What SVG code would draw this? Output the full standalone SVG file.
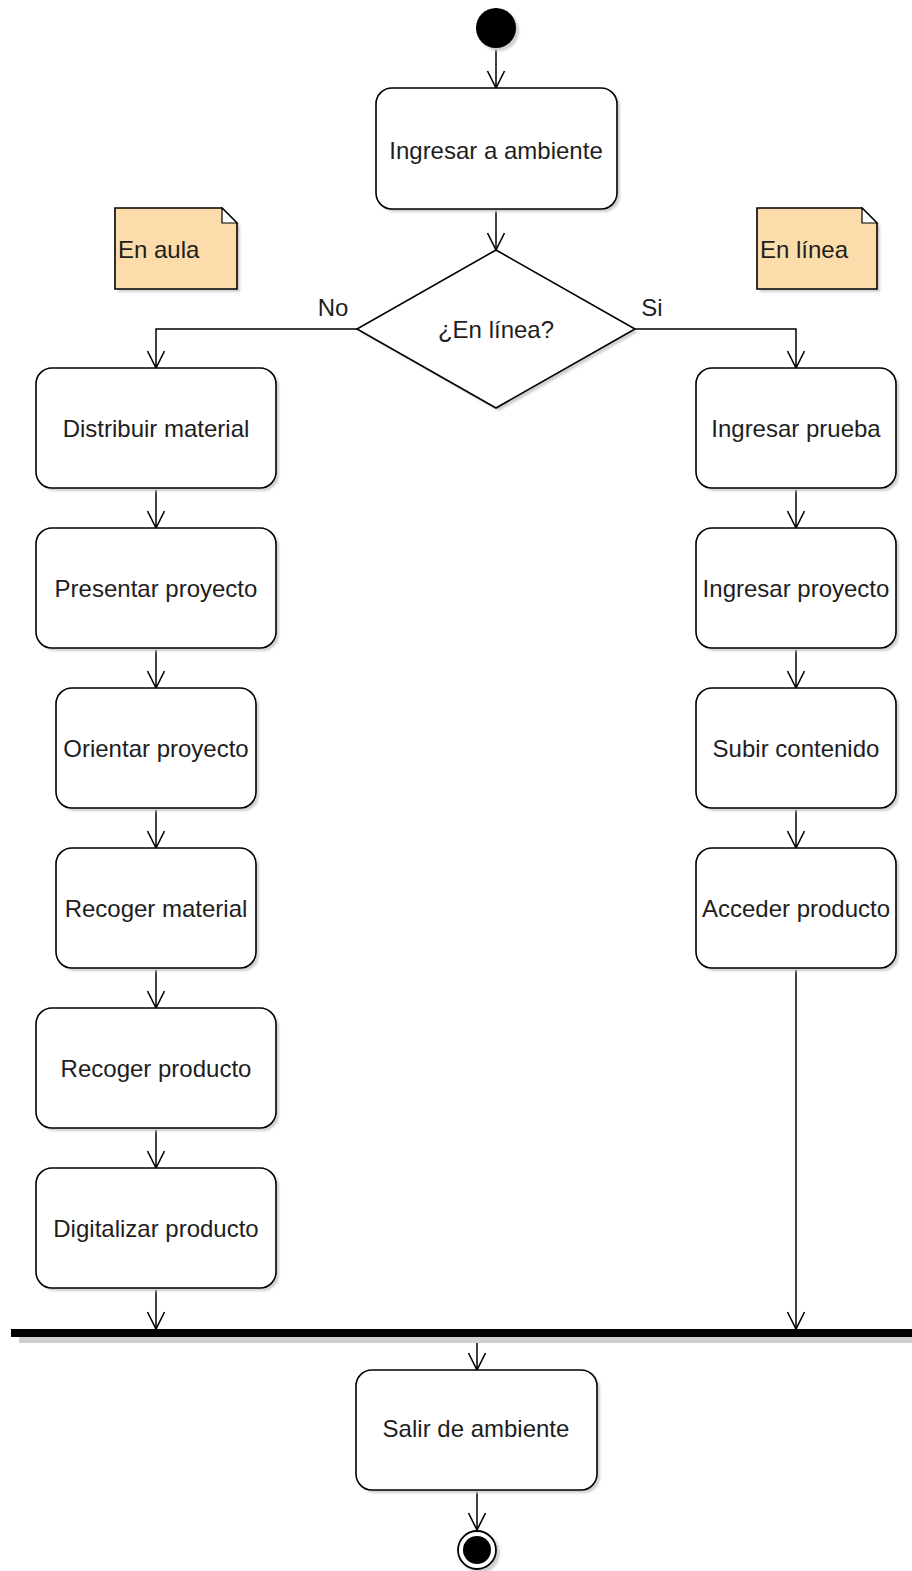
<svg xmlns="http://www.w3.org/2000/svg" width="912" height="1571" viewBox="0 0 912 1571">
  <style>
    .act { fill: #ffffff; stroke: #000000; stroke-width: 1.6; }
    .shd { fill: #cfcfcf; stroke: none; }
    .note { fill: #fcdcaa; stroke: #000000; stroke-width: 1.6; }
    .edge { fill: none; stroke: #000000; stroke-width: 1.5; marker-end: url(#open); }
    .lbl { font-family: "Liberation Sans", Arial, sans-serif; font-size: 24px; fill: #1e1e1e; text-anchor: middle; }
    .lft { text-anchor: start; }
  </style>
  <defs>
    <!-- open V arrowhead, tip at the line end -->
    <marker id="open" viewBox="-19 -10 21 20" refX="0" refY="0" markerWidth="21" markerHeight="20" markerUnits="userSpaceOnUse" orient="auto" overflow="visible">
      <path d="M-17,-8.5 L0,0 L-17,8.5" fill="none" stroke="#000" stroke-width="1.6"/>
    </marker>
    <filter id="soft" x="-10%" y="-10%" width="130%" height="130%">
      <feGaussianBlur stdDeviation="1"/>
    </filter>
  </defs>
  <rect width="912" height="1571" fill="#ffffff"/>

  <!-- connectors -->
  <g id="connectors">
    <line class="edge" x1="496" y1="48" x2="496" y2="88"/>
    <line class="edge" x1="496" y1="209" x2="496" y2="250"/>
    <!-- No branch -->
    <polyline class="edge" points="357,329 156,329 156,368"/>
    <!-- Si branch -->
    <polyline class="edge" points="635,329 796,329 796,368"/>
    <!-- left column -->
    <line class="edge" x1="156" y1="488" x2="156" y2="528"/>
    <line class="edge" x1="156" y1="648" x2="156" y2="688"/>
    <line class="edge" x1="156" y1="808" x2="156" y2="848"/>
    <line class="edge" x1="156" y1="968" x2="156" y2="1008"/>
    <line class="edge" x1="156" y1="1128" x2="156" y2="1168"/>
    <line class="edge" x1="156" y1="1288" x2="156" y2="1329"/>
    <!-- right column -->
    <line class="edge" x1="796" y1="488" x2="796" y2="528"/>
    <line class="edge" x1="796" y1="648" x2="796" y2="688"/>
    <line class="edge" x1="796" y1="808" x2="796" y2="848"/>
    <line class="edge" x1="796" y1="968" x2="796" y2="1329"/>
    <!-- join to exit -->
    <line class="edge" x1="477" y1="1337" x2="477" y2="1370"/>
    <line class="edge" x1="477" y1="1490" x2="477" y2="1530"/>
    <!-- guard labels -->
    <text class="lbl" x="333" y="316">No</text>
    <text class="lbl" x="652" y="316">Si</text>
  </g>

  <!-- initial node -->
  <g id="start">
    <circle class="shd" cx="499" cy="31" r="20" filter="url(#soft)"/>
    <circle cx="496" cy="28" r="20" fill="#000000"/>
  </g>

  <g id="ingresar-ambiente">
    <rect class="shd" x="379" y="91" width="241" height="121" rx="16" filter="url(#soft)"/>
    <rect class="act" x="376" y="88" width="241" height="121" rx="16"/>
    <text class="lbl" x="496" y="159">Ingresar a ambiente</text>
  </g>

  <g id="decision">
    <polygon class="shd" points="499,253 638,332 499,411 360,332" filter="url(#soft)"/>
    <polygon class="act" points="496,250 635,329 496,408 357,329"/>
    <text class="lbl" x="496" y="338">¿En línea?</text>
  </g>

  <g id="note-aula">
    <path class="shd" d="M118,211 H225 L240,226 V292 H118 Z" filter="url(#soft)"/>
    <path class="note" d="M115,208 H222 L237,223 V289 H115 Z"/>
    <path d="M222,208 V223 H237 Z" fill="#ffffff" stroke="#000" stroke-width="1.2"/>
    <text class="lbl lft" x="118" y="258">En aula</text>
  </g>

  <g id="note-linea">
    <path class="shd" d="M760,211 H865 L880,226 V292 H760 Z" filter="url(#soft)"/>
    <path class="note" d="M757,208 H862 L877,223 V289 H757 Z"/>
    <path d="M862,208 V223 H877 Z" fill="#ffffff" stroke="#000" stroke-width="1.2"/>
    <text class="lbl lft" x="760" y="258">En línea</text>
  </g>

  <!-- left lane -->
  <g id="distribuir-material">
    <rect class="shd" x="39" y="371" width="240" height="120" rx="16" filter="url(#soft)"/>
    <rect class="act" x="36" y="368" width="240" height="120" rx="16"/>
    <text class="lbl" x="156" y="437">Distribuir material</text>
  </g>
  <g id="presentar-proyecto">
    <rect class="shd" x="39" y="531" width="240" height="120" rx="16" filter="url(#soft)"/>
    <rect class="act" x="36" y="528" width="240" height="120" rx="16"/>
    <text class="lbl" x="156" y="597">Presentar proyecto</text>
  </g>
  <g id="orientar-proyecto">
    <rect class="shd" x="59" y="691" width="200" height="120" rx="16" filter="url(#soft)"/>
    <rect class="act" x="56" y="688" width="200" height="120" rx="16"/>
    <text class="lbl" x="156" y="757">Orientar proyecto</text>
  </g>
  <g id="recoger-material">
    <rect class="shd" x="59" y="851" width="200" height="120" rx="16" filter="url(#soft)"/>
    <rect class="act" x="56" y="848" width="200" height="120" rx="16"/>
    <text class="lbl" x="156" y="917">Recoger material</text>
  </g>
  <g id="recoger-producto">
    <rect class="shd" x="39" y="1011" width="240" height="120" rx="16" filter="url(#soft)"/>
    <rect class="act" x="36" y="1008" width="240" height="120" rx="16"/>
    <text class="lbl" x="156" y="1077">Recoger producto</text>
  </g>
  <g id="digitalizar-producto">
    <rect class="shd" x="39" y="1171" width="240" height="120" rx="16" filter="url(#soft)"/>
    <rect class="act" x="36" y="1168" width="240" height="120" rx="16"/>
    <text class="lbl" x="156" y="1237">Digitalizar producto</text>
  </g>

  <!-- right lane -->
  <g id="ingresar-prueba">
    <rect class="shd" x="699" y="371" width="200" height="120" rx="16" filter="url(#soft)"/>
    <rect class="act" x="696" y="368" width="200" height="120" rx="16"/>
    <text class="lbl" x="796" y="437">Ingresar prueba</text>
  </g>
  <g id="ingresar-proyecto">
    <rect class="shd" x="699" y="531" width="200" height="120" rx="16" filter="url(#soft)"/>
    <rect class="act" x="696" y="528" width="200" height="120" rx="16"/>
    <text class="lbl" x="796" y="597">Ingresar proyecto</text>
  </g>
  <g id="subir-contenido">
    <rect class="shd" x="699" y="691" width="200" height="120" rx="16" filter="url(#soft)"/>
    <rect class="act" x="696" y="688" width="200" height="120" rx="16"/>
    <text class="lbl" x="796" y="757">Subir contenido</text>
  </g>
  <g id="acceder-producto">
    <rect class="shd" x="699" y="851" width="200" height="120" rx="16" filter="url(#soft)"/>
    <rect class="act" x="696" y="848" width="200" height="120" rx="16"/>
    <text class="lbl" x="796" y="917">Acceder producto</text>
  </g>

  <!-- join bar -->
  <g id="join">
    <rect class="shd" x="19" y="1336" width="893" height="7"/>
    <rect x="11" y="1329" width="901" height="8" fill="#000000"/>
  </g>

  <g id="salir-ambiente">
    <rect class="shd" x="359" y="1373" width="241" height="120" rx="16" filter="url(#soft)"/>
    <rect class="act" x="356" y="1370" width="241" height="120" rx="16"/>
    <text class="lbl" x="476" y="1437">Salir de ambiente</text>
  </g>

  <!-- final node -->
  <g id="end">
    <circle class="shd" cx="480" cy="1553" r="20" filter="url(#soft)"/>
    <circle cx="477" cy="1550" r="19" fill="#ffffff" stroke="#000" stroke-width="1.8"/>
    <circle cx="477" cy="1550" r="14" fill="#000000"/>
  </g>
</svg>
